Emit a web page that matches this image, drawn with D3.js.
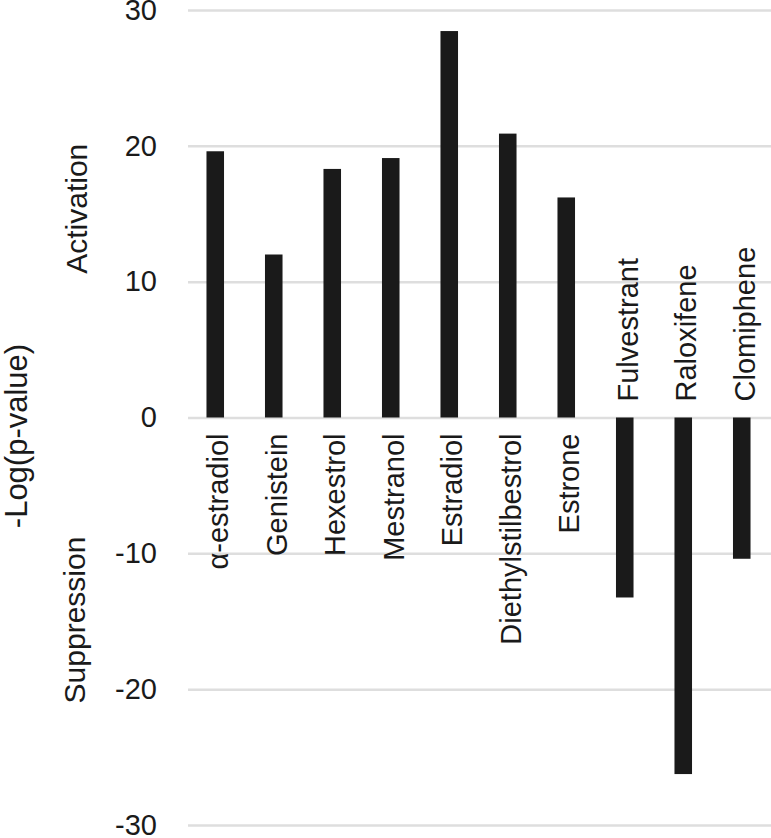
<!DOCTYPE html>
<html>
<head>
<meta charset="utf-8">
<script src="https://cdn.jsdelivr.net/npm/d3@7"></script>
<style>
  body { margin: 0; background: #fff; }
  text { font-family: "Liberation Sans", Arial, sans-serif; fill: #1a1a1a; }
</style>
</head>
<body>
<svg id="vis" width="771" height="838"></svg>
<script>
const compounds = ["α-estradiol", "Genistein", "Hexestrol", "Mestranol", "Estradiol",
    "Diethylstilbestrol", "Estrone", "Fulvestrant", "Raloxifene", "Clomiphene"];
const logP = [19.6, 12.0, 18.3, 19.1, 28.45, 20.9, 16.2, -13.25, -26.25, -10.4];
const yTicks = [-30, -20, -10, 0, 10, 20, 30];

const svg = d3.select("svg#vis");

const x = d3.scaleBand()
    .domain(compounds)
    .range([186, 771])
    .paddingInner(0.7)
    .paddingOuter(0.35);

const y = d3.scaleLinear()
    .domain([-30, 30])
    .range([825, 10]);

// grid lines + tick labels (plain hyphen for negatives, like the original)
const yAxis = d3.axisLeft(y)
    .tickValues(yTicks)
    .tickFormat(d => String(d))
    .tickSize(-(771 - 188))
    .tickPadding(30);
const gy = svg.append("g")
    .attr("transform", "translate(188,0)")
    .call(yAxis);
gy.select(".domain").remove();
gy.selectAll(".tick line")
    .attr("stroke", "#dedede")
    .attr("stroke-width", 2.5);
gy.selectAll(".tick text")
    .attr("x", -31)
    .attr("font-size", 29)
    .attr("fill", "#1a1a1a");

// bars
const data = compounds.map((c, i) => ({ name: c, value: logP[i] }));

svg.append("g")
    .selectAll("rect")
    .data(data)
    .enter()
    .append("rect")
    .attr("x", d => x(d.name))
    .attr("width", x.bandwidth())
    .attr("y", d => y(Math.max(0, d.value)))
    .attr("height", d => Math.abs(y(d.value) - y(0)))
    .attr("fill", "#1a1a1a");

// category labels, opposite side of the zero line from the bar
svg.append("g")
    .selectAll("text")
    .data(data)
    .enter()
    .append("text")
    .attr("transform", d => {
        const cx = x(d.name) + x.bandwidth() / 2 + 13;
        const cy = d.value >= 0 ? y(0) + 16 : y(0) - 16;
        return `translate(${cx},${cy}) rotate(-90)`;
    })
    .attr("text-anchor", d => d.value >= 0 ? "end" : "start")
    .attr("font-size", 29)
    .text(d => d.name);

// axis titles
svg.append("text")
    .attr("transform", "translate(27,436) rotate(-90)")
    .attr("text-anchor", "middle")
    .attr("font-size", 31)
    .text("-Log(p-value)");

svg.append("text")
    .attr("transform", `translate(87,${(y(10) + y(20)) / 2 - 5}) rotate(-90)`)
    .attr("text-anchor", "middle")
    .attr("font-size", 30)
    .text("Activation");

svg.append("text")
    .attr("transform", `translate(85,620) rotate(-90)`)
    .attr("text-anchor", "middle")
    .attr("font-size", 30)
    .text("Suppression");
</script>
</body>
</html>
